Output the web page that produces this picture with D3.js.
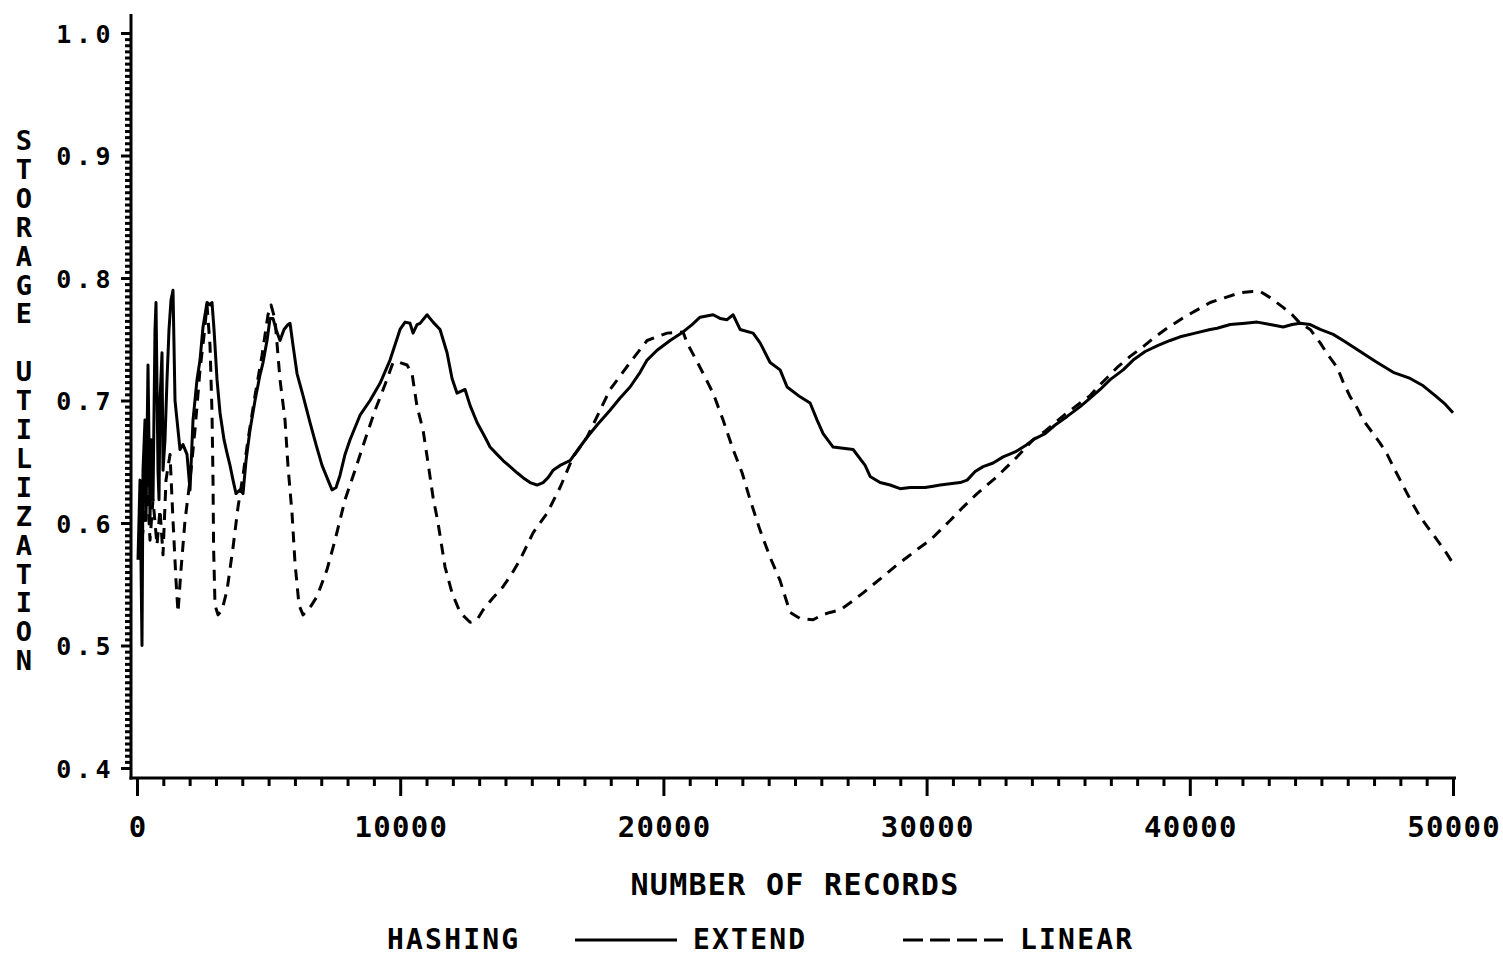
<!DOCTYPE html>
<html>
<head>
<meta charset="utf-8">
<script src="https://cdn.jsdelivr.net/npm/d3@7"></script>
<style>
  html, body { margin: 0; padding: 0; background: #fff; }
  svg { display: block; }
  text { font-family: 'DejaVu Sans Mono', 'Liberation Mono', monospace; font-weight: bold; fill: #000; }
</style>
</head>
<body>
<svg id="chart" width="1503" height="957"></svg>
<script>
// Storage utilization vs. number of records, [records, utilization]
const extendPoints = [
  [38,0.570],[114,0.635],[190,0.500],[228,0.643],[304,0.684],[342,0.602],[418,0.729],[494,0.602],
  [532,0.668],[608,0.619],[684,0.758],[722,0.780],[798,0.643],[836,0.619],[874,0.700],[950,0.739],
  [988,0.643],[1064,0.668],[1140,0.717],[1216,0.758],[1292,0.782],[1368,0.790],[1444,0.700],[1520,0.684],
  [1634,0.660],[1748,0.664],[1900,0.656],[2014,0.627],[2128,0.684],[2280,0.717],[2394,0.733],[2508,0.760],
  [2660,0.780],[2774,0.778],[2850,0.780],[2926,0.758],[3040,0.717],[3154,0.690],[3306,0.668],[3420,0.657],
  [3534,0.647],[3648,0.635],[3762,0.624],[3914,0.627],[4028,0.624],[4142,0.651],[4294,0.676],[4484,0.700],
  [4674,0.721],[4788,0.731],[4940,0.749],[5054,0.767],[5168,0.767],[5282,0.758],[5434,0.749],[5586,0.758],
  [5738,0.762],[5814,0.763],[5928,0.745],[6080,0.722],[6308,0.704],[6574,0.682],[6802,0.664],[7030,0.647],
  [7258,0.635],[7410,0.627],[7562,0.629],[7714,0.639],[7904,0.656],[8094,0.668],[8474,0.688],[8854,0.700],
  [9234,0.714],[9614,0.733],[9994,0.758],[10184,0.764],[10374,0.763],[10488,0.755],[10640,0.762],[10754,0.763],
  [11020,0.770],[11248,0.764],[11514,0.758],[11780,0.739],[11970,0.718],[12160,0.706],[12464,0.709],[12654,0.696],
  [12920,0.682],[13224,0.670],[13414,0.662],[13680,0.656],[13908,0.651],[14174,0.646],[14440,0.641],[14668,0.637],
  [14934,0.633],[15200,0.631],[15428,0.633],[15618,0.637],[15808,0.643],[16074,0.647],[16454,0.651],[16758,0.660],
  [17100,0.670],[17480,0.680],[17974,0.692],[18354,0.702],[18734,0.711],[19114,0.723],[19380,0.733],[19760,0.741],
  [20254,0.749],[20748,0.756],[21090,0.762],[21394,0.768],[21888,0.770],[22154,0.767],[22420,0.766],[22648,0.770],
  [22914,0.758],[23408,0.755],[23674,0.747],[24054,0.731],[24434,0.725],[24700,0.711],[25194,0.703],[25574,0.698],
  [25840,0.684],[26068,0.673],[26448,0.662],[27208,0.660],[27664,0.647],[27854,0.638],[28234,0.633],[28614,0.631],
  [28994,0.628],[29374,0.629],[29640,0.629],[29944,0.629],[30248,0.630],[30514,0.631],[30894,0.632],[31274,0.633],
  [31540,0.635],[31844,0.642],[32148,0.646],[32528,0.649],[32908,0.654],[33364,0.658],[33744,0.663],[34048,0.668],
  [34504,0.673],[34884,0.680],[35340,0.687],[35834,0.695],[36214,0.702],[36594,0.709],[36974,0.717],[37468,0.725],
  [37848,0.733],[38304,0.740],[38798,0.745],[39254,0.749],[39634,0.752],[40204,0.755],[40774,0.758],[41040,0.759],
  [41534,0.762],[42104,0.763],[42560,0.764],[43054,0.762],[43548,0.760],[43890,0.762],[44194,0.763],[44574,0.762],
  [44954,0.758],[45448,0.754],[45904,0.748],[46474,0.740],[47044,0.732],[47728,0.723],[48374,0.718],[48868,0.712],
  [49324,0.704],[49704,0.697],[50000,0.690]
];

const linearPoints = [
  [114,0.570],[266,0.602],[380,0.635],[494,0.586],[608,0.619],[760,0.582],[874,0.611],[988,0.574],
  [1102,0.635],[1254,0.656],[1368,0.602],[1482,0.553],[1558,0.527],[1672,0.562],[1824,0.602],[2014,0.635],
  [2204,0.676],[2394,0.725],[2546,0.753],[2660,0.778],[2774,0.745],[2850,0.690],[2888,0.635],[2910,0.580],
  [2964,0.533],[3078,0.525],[3230,0.529],[3420,0.545],[3648,0.580],[3838,0.613],[4028,0.639],[4218,0.668],
  [4484,0.704],[4750,0.737],[4978,0.770],[5092,0.778],[5244,0.766],[5434,0.717],[5624,0.684],[5738,0.646],
  [5890,0.608],[6004,0.567],[6156,0.533],[6308,0.525],[6574,0.531],[6840,0.540],[7220,0.562],[7524,0.586],
  [7904,0.619],[8284,0.643],[8664,0.668],[9044,0.692],[9424,0.713],[9728,0.731],[9994,0.731],[10260,0.729],
  [10450,0.722],[10640,0.695],[10868,0.676],[11058,0.649],[11248,0.621],[11438,0.600],[11704,0.564],[11970,0.543],
  [12274,0.527],[12654,0.519],[12920,0.521],[13148,0.529],[13528,0.539],[13908,0.548],[14250,0.559],[14554,0.570],
  [15048,0.592],[15580,0.608],[16074,0.629],[16568,0.654],[17100,0.670],[17594,0.692],[17974,0.709],[18734,0.731],
  [19380,0.749],[20140,0.755],[20748,0.756],[20900,0.747],[21394,0.727],[21888,0.706],[22268,0.684],[22648,0.660],
  [22990,0.641],[23294,0.619],[23674,0.594],[24054,0.572],[24434,0.553],[24814,0.527],[25194,0.522],[25688,0.521],
  [26030,0.525],[26334,0.527],[26714,0.529],[27170,0.536],[27588,0.543],[28044,0.551],[28500,0.559],[28880,0.566],
  [29260,0.572],[29678,0.579],[30134,0.586],[30514,0.594],[30894,0.602],[31388,0.613],[31920,0.624],[32300,0.631],
  [32680,0.638],[33060,0.646],[33440,0.654],[33744,0.661],[34048,0.668],[34504,0.675],[34884,0.682],[35340,0.690],
  [35834,0.698],[36214,0.704],[36594,0.713],[36974,0.721],[37240,0.727],[37734,0.736],[38228,0.744],[38684,0.752],
  [39140,0.759],[39710,0.767],[40280,0.774],[40774,0.780],[41344,0.784],[41914,0.788],[42370,0.789],[42674,0.789],
  [43054,0.784],[43548,0.776],[43890,0.770],[44194,0.763],[44574,0.758],[44954,0.747],[45258,0.737],[45600,0.727],
  [45828,0.715],[46094,0.703],[46360,0.694],[46588,0.684],[46930,0.674],[47234,0.665],[47500,0.656],[47728,0.646],
  [47994,0.635],[48260,0.624],[48488,0.615],[48754,0.605],[49058,0.596],[49400,0.586],[49704,0.577],[49970,0.568]
];

const xMajorTicks = [0, 10000, 20000, 30000, 40000, 50000];
const xTickLabels = ["0", "10000", "20000", "30000", "40000", "50000"];
const yMajorTicks = [0.4, 0.5, 0.6, 0.7, 0.8, 0.9, 1.0];
const yTickLabels = ["0.4", "0.5", "0.6", "0.7", "0.8", "0.9", "1.0"];
const xTitle = "NUMBER OF RECORDS";
const yTitle = "STORAGE UTILIZATION";
const legendTitle = "HASHING";
const seriesNames = ["EXTEND", "LINEAR"];

const svg = d3.select("#chart");
svg.append("rect").attr("width", 1503).attr("height", 957).attr("fill", "#fff");

const x = d3.scaleLinear().domain([0, 50000]).range([137, 1453]);
const y = d3.scaleLinear().domain([0.4, 1.0]).range([768, 33]);
const axisLeftX = 131;
const axisBottomY = 778;

function styleAxis(g) {
  g.select(".domain").remove();
  g.selectAll(".tick line").attr("stroke", "#000").attr("stroke-width", 3);
}

// x axis: minor ticks every 1000, major every 10000
const xMinor = d3.range(0, 50001, 1000).filter(v => v % 10000 !== 0);
svg.append("g")
  .attr("transform", `translate(0,${axisBottomY})`)
  .call(d3.axisBottom(x).tickValues(xMinor).tickSize(8).tickFormat(""))
  .call(styleAxis);

const gxMajor = svg.append("g")
  .attr("transform", `translate(0,${axisBottomY})`)
  .call(d3.axisBottom(x).tickValues(xMajorTicks).tickSize(18).tickPadding(20)
    .tickFormat((d, i) => xTickLabels[i]))
  .call(styleAxis);
gxMajor.selectAll(".tick text")
  .attr("font-size", 29).attr("letter-spacing", "1.3px")
  .attr("font-family", null).attr("fill", null)
  .attr("dx", "0.65px");

// y axis: minor ticks every 0.005, major every 0.1
const yMinor = d3.range(0, 121).map(i => +(0.4 + i * 0.005).toFixed(3)).filter((v, i) => i % 20 !== 0);
svg.append("g")
  .attr("transform", `translate(${axisLeftX},0)`)
  .call(d3.axisLeft(y).tickValues(yMinor).tickSize(6).tickFormat(""))
  .call(styleAxis);

const gyMajor = svg.append("g")
  .attr("transform", `translate(${axisLeftX},0)`)
  .call(d3.axisLeft(y).tickValues(yMajorTicks).tickSize(10).tickPadding(6)
    .tickFormat((d, i) => yTickLabels[i]))
  .call(styleAxis);
gyMajor.selectAll(".tick text")
  .attr("font-size", 25).attr("letter-spacing", "4.5px")
  .attr("font-family", null).attr("fill", null)
  .attr("dy", "0.36em");

// axis lines
svg.append("line")
  .attr("x1", axisLeftX).attr("x2", axisLeftX)
  .attr("y1", 14).attr("y2", axisBottomY + 1.5)
  .attr("stroke", "#000").attr("stroke-width", 3);
svg.append("line")
  .attr("x1", axisLeftX - 1.5).attr("x2", x(50000) + 3)
  .attr("y1", axisBottomY).attr("y2", axisBottomY)
  .attr("stroke", "#000").attr("stroke-width", 3);

// series
const line = d3.line().x(d => x(d[0])).y(d => y(d[1]));

svg.append("path")
  .datum(extendPoints)
  .attr("d", line)
  .attr("fill", "none")
  .attr("stroke", "#000")
  .attr("stroke-width", 3)
  .attr("stroke-linejoin", "round");

svg.append("path")
  .datum(linearPoints)
  .attr("d", line)
  .attr("fill", "none")
  .attr("stroke", "#000")
  .attr("stroke-width", 3)
  .attr("stroke-dasharray", "11,8")
  .attr("stroke-linejoin", "round");

// axis titles
svg.append("text")
  .attr("x", 795).attr("y", 895)
  .attr("text-anchor", "middle")
  .attr("font-size", 30).attr("letter-spacing", "1.3px")
  .text(xTitle);

svg.append("g").selectAll("text")
  .data(yTitle.split(""))
  .join("text")
  .attr("x", 24)
  .attr("y", (d, i) => 150 + i * 28.9)
  .attr("text-anchor", "middle")
  .attr("font-size", 27)
  .text(d => d);

// legend
const legendY = 949;
const legend = svg.append("g");
legend.append("text")
  .attr("x", 387).attr("y", legendY)
  .attr("font-size", 28).attr("letter-spacing", "2.2px")
  .text(legendTitle);

legend.append("line")
  .attr("x1", 575).attr("x2", 677).attr("y1", 940).attr("y2", 940)
  .attr("stroke", "#000").attr("stroke-width", 3);
legend.append("text")
  .attr("x", 693).attr("y", legendY)
  .attr("font-size", 28).attr("letter-spacing", "2.2px")
  .text(seriesNames[0]);

legend.append("line")
  .attr("x1", 903).attr("x2", 1003).attr("y1", 940).attr("y2", 940)
  .attr("stroke", "#000").attr("stroke-width", 3)
  .attr("stroke-dasharray", "20,7");
legend.append("text")
  .attr("x", 1020).attr("y", legendY)
  .attr("font-size", 28).attr("letter-spacing", "2.2px")
  .text(seriesNames[1]);
</script>
</body>
</html>
